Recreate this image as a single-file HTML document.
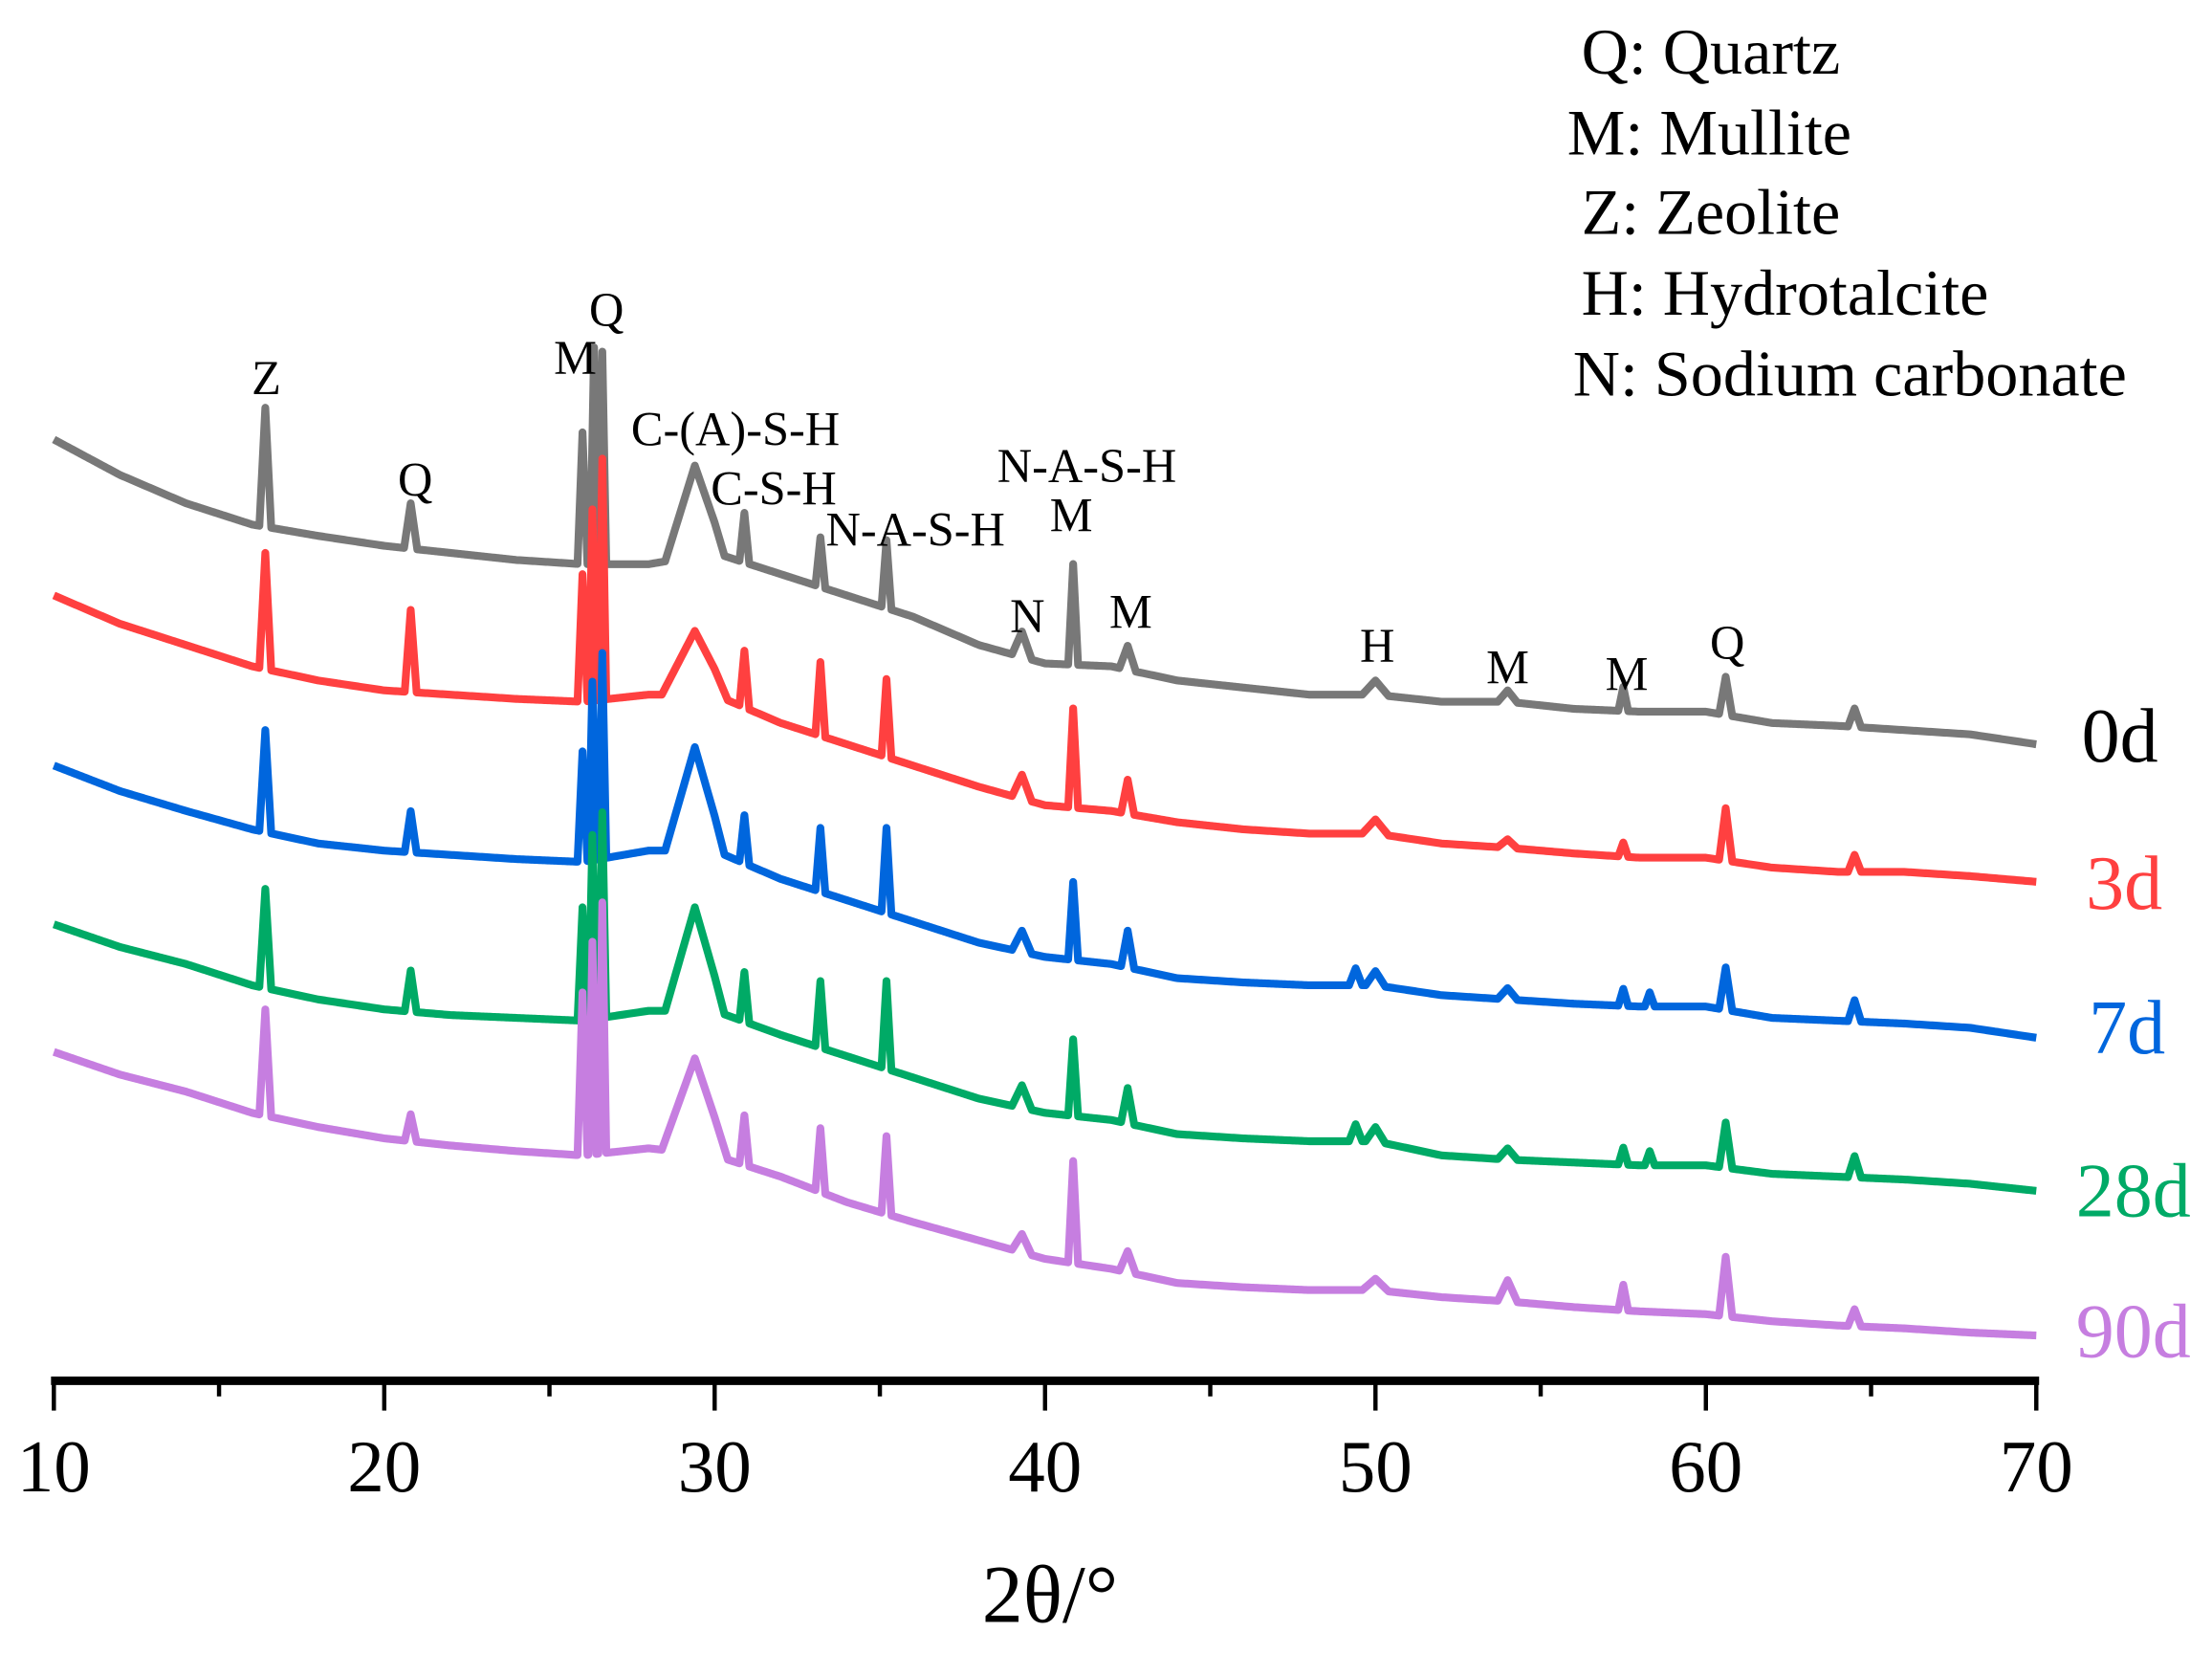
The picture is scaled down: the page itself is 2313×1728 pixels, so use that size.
<!DOCTYPE html>
<html><head><meta charset="utf-8"><style>
html,body{margin:0;padding:0;background:#fff;}
svg{display:block;font-family:"Liberation Serif","DejaVu Serif",serif;}
</style></head><body>
<svg id="chart" width="2313" height="1728" viewBox="0 0 1561 1166" preserveAspectRatio="none" xmlns="http://www.w3.org/2000/svg">
<g id="axis"></g>
<g id="series"></g>
<g font-size="34" text-anchor="middle" fill="#000">
<text x="188" y="278">Z</text>
<text x="293" y="350">Q</text>
<text x="406" y="264">M</text>
<text x="428" y="230">Q</text>
<text x="519" y="314">C-(A)-S-H</text>
<text x="546" y="356">C-S-H</text>
<text x="646" y="385">N-A-S-H</text>
<text x="767" y="340">N-A-S-H</text>
<text x="756" y="375">M</text>
<text x="725" y="446">N</text>
<text x="798" y="443">M</text>
<text x="972" y="467">H</text>
<text x="1064" y="482">M</text>
<text x="1148" y="487">M</text>
<text x="1219" y="465">Q</text>
</g>
<g font-size="46" fill="#000">
<text x="1116" y="52">Q: Quartz</text>
<text x="1106" y="109">M: Mullite</text>
<text x="1116" y="165">Z: Zeolite</text>
<text x="1116" y="222">H: Hydrotalcite</text>
<text x="1110" y="279">N: Sodium carbonate</text>
</g>
<g font-size="54">
<text x="1469" y="537" fill="#000">0d</text>
<text x="1472" y="641" fill="#ff4040">3d</text>
<text x="1474" y="743" fill="#0066dd">7d</text>
<text x="1465" y="858" fill="#00aa66">28d</text>
<text x="1465" y="957" fill="#c67ee0">90d</text>
</g>
<text x="741" y="1144" font-size="58" text-anchor="middle">2θ/°</text>
</svg>
<script>
const ticks = [10, 20, 30, 40, 50, 60, 70];
const minorTicks = [15, 25, 35, 45, 55, 65];
const baseX = [10,12,14,16,18,20,22,24,26,28,30,32,34,36,38,40,42,44,46,48,50,52,54,56,58,60,62,64,66,68,70];
const seriesNames = ['0d','3d','7d','28d','90d'];
const seriesColors = ['#787878','#ff4040','#0066dd','#00aa66','#c67ee0'];
// baseline intensities (a.u.)
const base0 = [690,665,645,630,622,615,610,605,602,602,610,595,580,565,545,532,530,520,515,510,510,505,505,500,498,498,490,488,485,482,475];
const base3 = [580,560,545,530,520,513,510,507,505,510,510,490,475,460,445,432,428,420,415,412,412,405,402,398,395,395,388,385,385,382,378];
const base7 = [460,442,428,415,405,400,397,394,392,400,400,380,365,350,335,325,320,310,307,305,305,298,295,292,290,290,282,280,278,275,268];
const base28 = [348,332,320,305,295,288,284,282,280,287,287,270,255,240,225,215,210,200,197,195,195,185,182,180,178,178,172,170,168,165,160];
const base90 = [258,242,230,215,205,197,192,188,185,190,185,170,152,138,125,112,105,95,92,90,90,85,82,78,75,73,68,65,63,60,58];
// peaks: position (2θ), height above baseline (a.u.), half-width (°)
const peakPos0 = [16.4,20.8,26.0,26.35,26.6,29.4,30.9,33.2,35.2,39.3,40.85,42.5,50.0,54.0,57.5,60.6,64.5];
const peakH0 = [84,32,93,153,150,64,35,35,48,18,71,17,10,8,17,27,13];
const peakW0 = [0.18,0.2,0.15,0.12,0.12,0.9,0.15,0.15,0.15,0.3,0.15,0.25,0.4,0.3,0.15,0.2,0.2];
const peakPos3 = [16.4,20.8,26.0,26.3,26.6,29.4,30.9,33.2,35.2,39.3,40.85,42.5,50.0,54.0,57.5,60.6,64.5];
const peakH3 = [82,58,90,135,170,45,40,52,55,17,70,24,10,6,10,37,12];
const peakW3 = [0.18,0.18,0.15,0.12,0.12,1.0,0.15,0.15,0.15,0.3,0.15,0.2,0.4,0.3,0.15,0.2,0.2];
const peakPos7 = [16.4,20.8,26.0,26.3,26.6,29.4,30.9,33.2,35.2,39.3,40.85,42.5,49.4,50.0,54.0,57.5,58.3,60.6,64.5];
const peakH7 = [72,29,78,126,145,73,34,45,60,15,55,26,12,10,8,12,10,30,15];
const peakW7 = [0.18,0.18,0.15,0.12,0.12,0.9,0.15,0.15,0.15,0.3,0.15,0.2,0.2,0.3,0.3,0.15,0.15,0.2,0.2];
const peakPos28 = [16.4,20.8,26.0,26.3,26.6,29.4,30.9,33.2,35.2,39.3,40.85,42.5,49.4,50.0,54.0,57.5,58.3,60.6,64.5];
const peakH28 = [70,29,80,130,145,73,35,47,62,16,54,25,12,10,8,12,10,32,15];
const peakW28 = [0.18,0.18,0.15,0.12,0.12,0.9,0.15,0.15,0.15,0.3,0.15,0.2,0.2,0.3,0.3,0.15,0.15,0.2,0.2];
const peakPos90 = [16.4,20.8,26.0,26.3,26.6,29.4,30.9,33.2,35.2,39.3,40.85,42.5,50.0,54.0,57.5,60.6,64.5];
const peakH90 = [75,19,115,150,177,67,35,45,55,13,72,15,8,15,18,42,12];
const peakW90 = [0.18,0.18,0.15,0.12,0.12,1.0,0.15,0.15,0.15,0.3,0.15,0.25,0.4,0.3,0.15,0.2,0.2];

const bases = [base0, base3, base7, base28, base90];
const pPos = [peakPos0, peakPos3, peakPos7, peakPos28, peakPos90];
const pH = [peakH0, peakH3, peakH7, peakH28, peakH90];
const pW = [peakW0, peakW3, peakW7, peakW28, peakW90];

const NS = 'http://www.w3.org/2000/svg';
const X0 = 38, X1 = 1437, AXIS_Y = 974;
function xScale(t){ return X0 + (t - 10) / 60 * (X1 - X0); }
function yScale(v){ return 1000 - v; }

function baselineAt(arr, t){
  for (let i = 0; i < baseX.length - 1; i++) {
    if (t >= baseX[i] && t <= baseX[i+1]) {
      const f = (t - baseX[i]) / (baseX[i+1] - baseX[i]);
      return arr[i] + f * (arr[i+1] - arr[i]);
    }
  }
  return arr[arr.length - 1];
}

const axis = document.getElementById('axis');
const line = document.createElementNS(NS, 'line');


line.setAttribute('x1', X0 - 2); line.setAttribute('x2', X1 + 2);
line.setAttribute('y1', AXIS_Y); line.setAttribute('y2', AXIS_Y);
line.setAttribute('stroke', '#000'); line.setAttribute('stroke-width', '6');
axis.appendChild(line);
ticks.forEach(t => {
  const tk = document.createElementNS(NS, 'line');
  
  
  tk.setAttribute('x1', xScale(t)); tk.setAttribute('x2', xScale(t));
  tk.setAttribute('y1', AXIS_Y); tk.setAttribute('y2', 995);
  tk.setAttribute('stroke', '#000'); tk.setAttribute('stroke-width', '3');
  axis.appendChild(tk);
  const lb = document.createElementNS(NS, 'text');
  
  
  lb.setAttribute('x', xScale(t)); lb.setAttribute('y', 1052);
  lb.setAttribute('text-anchor', 'middle'); lb.setAttribute('font-size', '52');
  lb.textContent = t;
  axis.appendChild(lb);
});
minorTicks.forEach(t => {
  const tk = document.createElementNS(NS, 'line');
  
  
  tk.setAttribute('x1', xScale(t)); tk.setAttribute('x2', xScale(t));
  tk.setAttribute('y1', AXIS_Y); tk.setAttribute('y2', 985);
  tk.setAttribute('stroke', '#000'); tk.setAttribute('stroke-width', '3');
  axis.appendChild(tk);
});

const sg = document.getElementById('series');
for (let s = 0; s < seriesNames.length; s++) {
  const pts = [];
  const xs = new Set();
  for (let t = 10; t <= 70.0001; t += 0.05) xs.add(+t.toFixed(3));
  pPos[s].forEach((p, i) => { xs.add(p); xs.add(+(p - pW[s][i]).toFixed(3)); xs.add(+(p + pW[s][i]).toFixed(3)); });
  const sorted = [...xs].filter(t => t >= 10 && t <= 70).sort((a, b) => a - b);
  sorted.forEach(t => {
    let v = baselineAt(bases[s], t);
    pPos[s].forEach((p, i) => {
      const d = Math.abs(t - p);
      if (d < pW[s][i]) v += pH[s][i] * (1 - d / pW[s][i]);
    });
    pts.push(xScale(t).toFixed(2) + ',' + yScale(v).toFixed(2));
  });
  const pl = document.createElementNS(NS, 'polyline');
  
  
  pl.setAttribute('points', pts.join(' '));
  pl.setAttribute('fill', 'none');
  pl.setAttribute('stroke', seriesColors[s]);
  pl.setAttribute('stroke-width', '5.5');
  pl.setAttribute('stroke-linejoin', 'round');
  sg.appendChild(pl);
}
</script>
</body></html>
